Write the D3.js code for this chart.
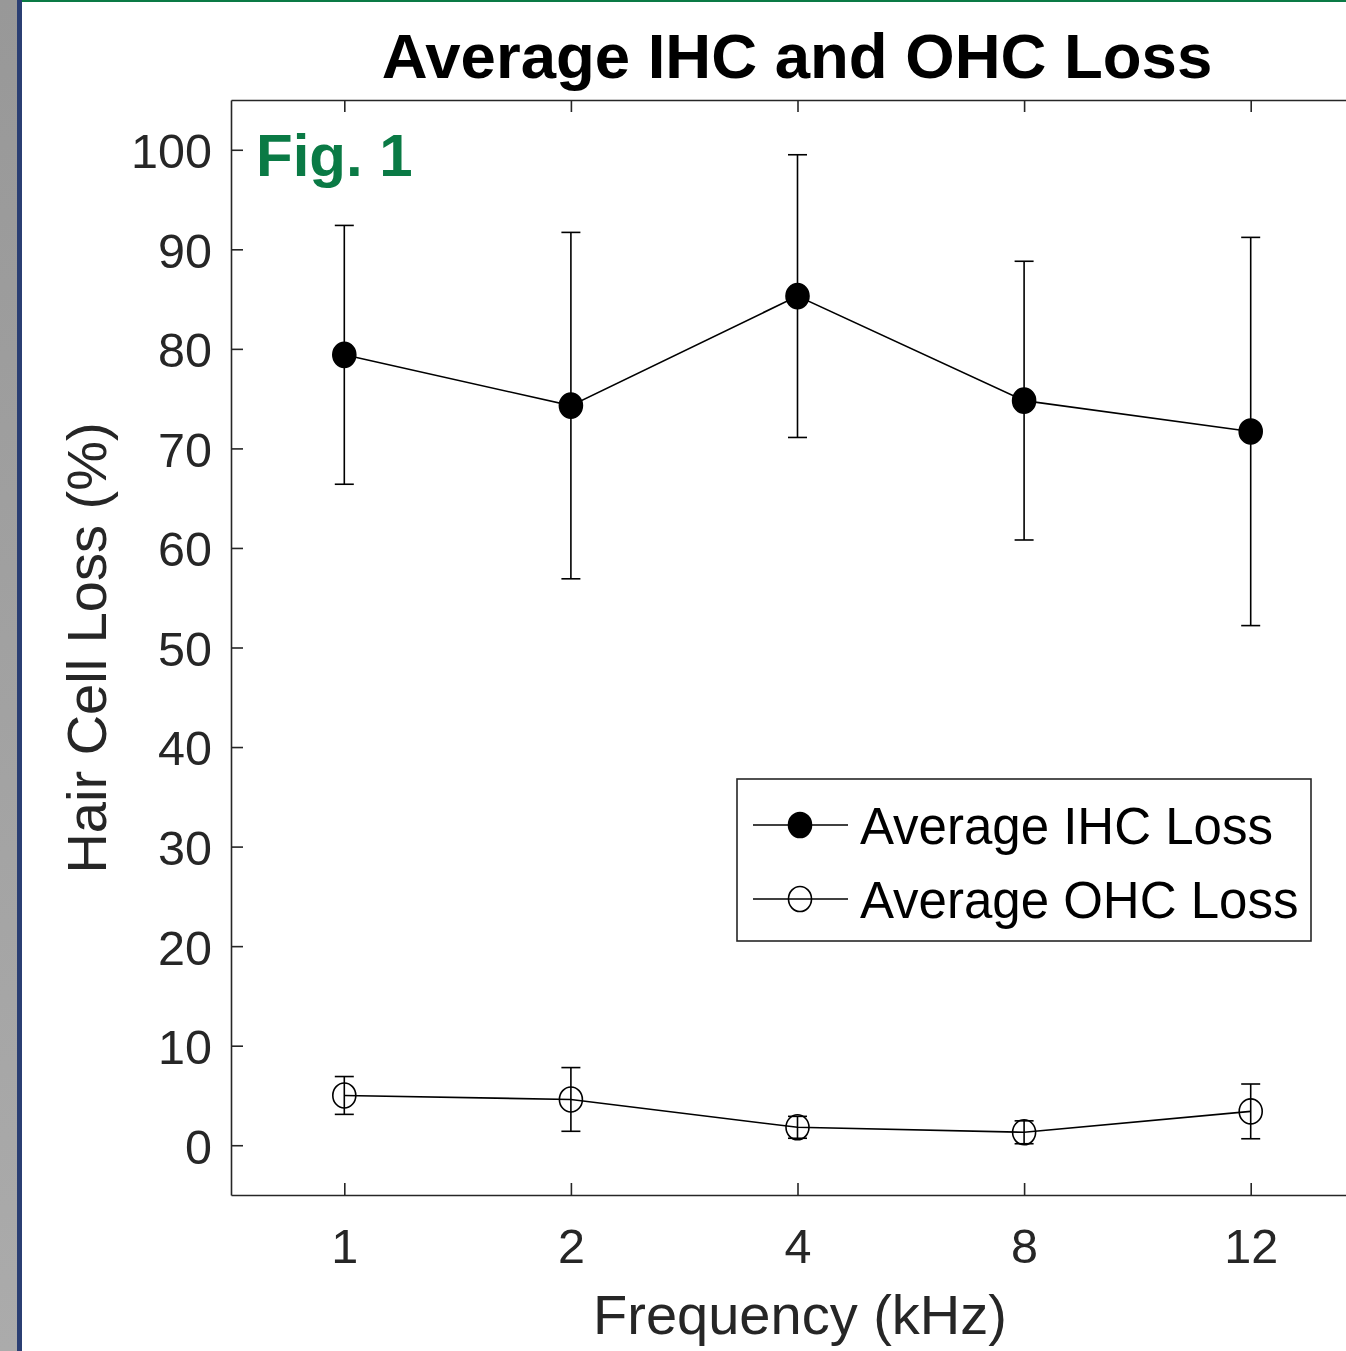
<!DOCTYPE html>
<html>
<head>
<meta charset="utf-8">
<script src="https://cdn.jsdelivr.net/npm/d3@7/dist/d3.min.js"></script>
<style>
  html, body { margin: 0; padding: 0; background: #fff; }
  svg { display: block; font-family: "Liberation Sans", Arial, Helvetica, sans-serif; }
</style>
</head>
<body>
<svg id="chart" width="1346" height="1351"></svg>
<script>
// Frequencies tested (kHz) and hair-cell loss (%) with error bars
const frequencies = ["1", "2", "4", "8", "12"];
const ihcMean = [79.4, 74.3, 85.3, 74.8, 71.7];
const ihcErr  = [13.0, 17.4, 14.2, 14.0, 19.5];
const ohcMean = [5.0, 4.6, 1.8, 1.3, 3.4];
const ohcErr  = [1.9, 3.2, 1.1, 1.15, 2.75];
const yTicks  = [0, 10, 20, 30, 40, 50, 60, 70, 80, 90, 100];
const seriesNames = ["Average IHC Loss", "Average OHC Loss"];

const svg = d3.select("#chart");
const W = 1346, H = 1351;
const plotLeft = 231, plotTop = 100, plotBottom = 1195, plotRight = 1364;
const axisColor = "#262626";

// page frame decoration
const defs = svg.append("defs");
const grad = defs.append("linearGradient").attr("id", "sideGrad")
  .attr("x1", 0).attr("y1", 0).attr("x2", 0).attr("y2", 1);
grad.append("stop").attr("offset", "0%").attr("stop-color", "#989898");
grad.append("stop").attr("offset", "100%").attr("stop-color", "#ababab");
svg.append("rect").attr("x", 0).attr("y", 0).attr("width", W).attr("height", H).attr("fill", "#fff");
svg.append("rect").attr("x", 0).attr("y", 0).attr("width", 17).attr("height", H).attr("fill", "url(#sideGrad)");
svg.append("rect").attr("x", 17).attr("y", 0).attr("width", 5).attr("height", H).attr("fill", "#2b3f73");
svg.append("rect").attr("x", 22).attr("y", 0).attr("width", W - 22).attr("height", 2).attr("fill", "#0a7a45");

const idx = frequencies.map((_, i) => i + 1);
const x = d3.scaleLinear().domain([0.5, frequencies.length + 0.5]).range([plotLeft, plotRight]);
const y = d3.scaleLinear().domain([-5, 105]).range([plotBottom, plotTop]);

// axes (box with inward ticks)
function styleAxis(g) {
  g.selectAll("path.domain").attr("stroke", axisColor).attr("stroke-width", 1.6);
  g.selectAll(".tick line").attr("stroke", axisColor).attr("stroke-width", 1.6);
  g.selectAll(".tick text").attr("fill", axisColor);
}
svg.append("g").attr("transform", `translate(0,${plotBottom})`)
  .call(d3.axisBottom(x).tickValues(idx).tickFormat(i => frequencies[i - 1])
    .tickSizeInner(-12).tickSizeOuter(0).tickPadding(34))
  .call(styleAxis)
  .call(g => g.selectAll(".tick text").attr("font-size", 48.5).attr("font-family", null));
svg.append("g").attr("transform", `translate(0,${plotTop})`)
  .call(d3.axisTop(x).tickValues(idx).tickFormat("")
    .tickSizeInner(-12).tickSizeOuter(0))
  .call(styleAxis);
svg.append("g").attr("transform", `translate(${plotLeft},0)`)
  .call(d3.axisLeft(y).tickValues(yTicks).tickSizeInner(-12).tickSizeOuter(0).tickPadding(19))
  .call(styleAxis)
  .call(g => g.selectAll(".tick text").attr("font-size", 48.5).attr("font-family", null).attr("dy", "0.37em"));
svg.append("g").attr("transform", `translate(${plotRight},0)`)
  .call(d3.axisRight(y).tickValues(yTicks).tickFormat("").tickSizeInner(-12).tickSizeOuter(0))
  .call(styleAxis);

// series
const series = [
  { name: seriesNames[0], mean: ihcMean, err: ihcErr, fill: "#000" },
  { name: seriesNames[1], mean: ohcMean, err: ohcErr, fill: "none" }
];
const line = d3.line().x(d => x(d.i)).y(d => y(d.v));
const capHalf = 9.5;

series.forEach(s => {
  const pts = s.mean.map((v, k) => ({ i: k + 1, v, e: s.err[k] }));
  const g = svg.append("g");
  // error bars
  const eb = g.selectAll("g.err").data(pts).enter().append("g")
    .attr("stroke", "#000").attr("stroke-width", 1.6);
  eb.append("line").attr("x1", d => x(d.i)).attr("x2", d => x(d.i))
    .attr("y1", d => y(d.v - d.e)).attr("y2", d => y(d.v + d.e));
  eb.append("line").attr("x1", d => x(d.i) - capHalf).attr("x2", d => x(d.i) + capHalf)
    .attr("y1", d => y(d.v + d.e)).attr("y2", d => y(d.v + d.e));
  eb.append("line").attr("x1", d => x(d.i) - capHalf).attr("x2", d => x(d.i) + capHalf)
    .attr("y1", d => y(d.v - d.e)).attr("y2", d => y(d.v - d.e));
  // connecting line
  g.append("path").datum(pts).attr("d", line)
    .attr("fill", "none").attr("stroke", "#000").attr("stroke-width", 1.6);
  // markers
  g.selectAll("ellipse").data(pts).enter().append("ellipse")
    .attr("cx", d => x(d.i)).attr("cy", d => y(d.v))
    .attr("rx", 11.5).attr("ry", 12.5)
    .attr("fill", s.fill).attr("stroke", "#000").attr("stroke-width", 1.6);
});

// legend
const lg = svg.append("g");
lg.append("rect").attr("x", 737).attr("y", 779).attr("width", 574).attr("height", 162)
  .attr("fill", "#fff").attr("stroke", axisColor).attr("stroke-width", 1.6);
series.forEach((s, k) => {
  const cy = 825 + k * 74;
  lg.append("line").attr("x1", 753).attr("x2", 848).attr("y1", cy).attr("y2", cy)
    .attr("stroke", "#000").attr("stroke-width", 1.6);
  lg.append("ellipse").attr("cx", 800).attr("cy", cy).attr("rx", 11.5).attr("ry", 12.5)
    .attr("fill", s.fill).attr("stroke", "#000").attr("stroke-width", 1.6);
  lg.append("text").attr("x", 860).attr("y", cy).attr("dy", "0.37em")
    .attr("font-size", 51).attr("fill", "#000").text(s.name);
});

// labels
svg.append("text").attr("x", 797).attr("y", 78).attr("text-anchor", "middle")
  .attr("font-size", 63.5).attr("font-weight", "bold").attr("fill", "#000")
  .text("Average IHC and OHC Loss");
svg.append("text").attr("x", 256).attr("y", 176)
  .attr("font-size", 60).attr("font-weight", "bold").attr("fill", "#0a7a45")
  .text("Fig. 1");
svg.append("text").attr("x", 800).attr("y", 1334).attr("text-anchor", "middle")
  .attr("font-size", 56).attr("fill", axisColor).text("Frequency (kHz)");
svg.append("text").attr("transform", "translate(106,648) rotate(-90)")
  .attr("text-anchor", "middle").attr("font-size", 56).attr("fill", axisColor)
  .text("Hair Cell Loss (%)");
</script>
</body>
</html>
